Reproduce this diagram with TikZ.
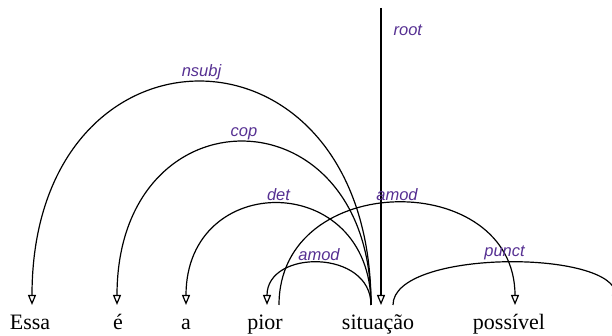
\documentclass[tikz,border=0pt]{standalone}
\usepackage{fontspec}
\setmainfont{Liberation Serif}
\newfontfamily\relfont{Liberation Sans}
\usetikzlibrary{arrows.meta}
\definecolor{relpurple}{RGB}{86,48,146}

\tikzset{
    word/.style={anchor=base, inner sep=0pt, font=\fontsize{22}{26}\selectfont},
    rel/.style={inner sep=0pt, text=relpurple, font=\relfont\itshape\fontsize{16.5}{19}\selectfont},
    deparc/.style={line width=1.2pt, -{Triangle[open, length=10pt, width=8pt]}}
}

\begin{document}
\begin{tikzpicture}[x=1pt, y=1pt]
    \useasboundingbox (0,0) rectangle (612,336);
    \clip (0,0) rectangle (612,336);

    \node[word] (essa) at (30,6) {Essa};
    \node[word] (e) at (118,6) {é};
    \node[word] (a) at (186,6) {a};
    \node[word] (pior) at (265,6) {pior};
    \node[word] (situacao) at (378,6) {situação};
    \node[word] (possivel) at (509,6) {possível};

    \coordinate (essa-in) at (32,31);
    \coordinate (e-in) at (117,31);
    \coordinate (a-in) at (186,31);
    \coordinate (pior-in) at (267,31);
    \coordinate (pior-out) at (279,31);
    \coordinate (sit-out) at (371,31);
    \coordinate (sit-in) at (381,31);
    \coordinate (sit-punct) at (393,31);
    \coordinate (possivel-in) at (515,31);
    \coordinate (dot-in) at (616,31);
    \coordinate (top) at (381,328);

    \draw[deparc] (top) -- (sit-in) node[rel, pos=0.075, right=12pt] {root};
    \draw[deparc] (sit-out) .. controls +(0,297) and +(0,297) .. (essa-in) node[rel, midway, above=2pt] {nsubj};
    \draw[deparc] (sit-out) .. controls +(0,217) and +(0,217) .. (e-in) node[rel, midway, above=2pt] {cop};
    \draw[deparc] (sit-out) .. controls +(0,135) and +(0,135) .. (a-in) node[rel, midway, above=2pt] {det};
    \draw[deparc] (sit-out) .. controls +(0,56) and +(0,56) .. (pior-in) node[rel, midway, above=2pt] {amod};
    \draw[deparc] (pior-out) .. controls +(0,136) and +(0,136) .. (possivel-in) node[rel, midway, above=2pt] {amod};
    \draw[deparc] (sit-punct) .. controls +(0,56) and +(0,56) .. (dot-in) node[rel, midway, above=2pt] {punct};
\end{tikzpicture}
\end{document}
